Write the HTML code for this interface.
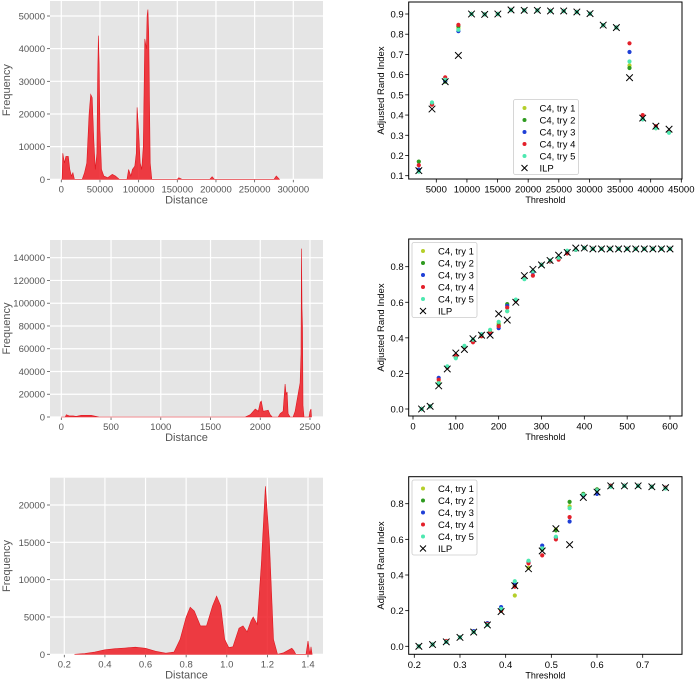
<!DOCTYPE html>
<html><head><meta charset="utf-8"><style>
html,body{margin:0;padding:0;background:#fff;}
svg{display:block;font-family:"Liberation Sans","DejaVu Sans",sans-serif;}
</style></head><body>
<svg id="fig" width="696" height="679" viewBox="0 0 696 679"></svg>
<script>
// ---------- Histogram data (distance, frequency) ----------
const hist1Dist = [0,1000,2000,4000,6000,9000,11000,13000,15000,17000,27000,30000,33000,36000,38000,40000,42000,44000,46000,47000,48000,49000,50000,52000,55000,60000,66000,70000,75000,85000,87000,90000,92000,95000,97000,98000,100000,102000,104000,106000,108000,110000,111000,112000,113000,115000,117000,150000,152000,156000,192000,195000,198000,275000,278000,282000];
const hist1Freq = [0,0,8000,5000,7000,7000,3000,1000,2000,0,0,2000,5000,20000,26000,25000,12000,3000,8000,30000,44000,35000,15000,3000,1000,500,1500,1000,0,0,3000,1000,3000,4000,8000,22000,15000,5000,3000,10000,43000,40000,50000,52000,45000,5000,0,0,500,0,0,800,0,0,1000,0];
const hist2Dist = [0,40,50,80,120,150,200,300,350,380,1850,1900,1950,1980,2000,2010,2030,2080,2100,2120,2180,2200,2230,2250,2260,2270,2280,2300,2330,2350,2380,2400,2410,2415,2420,2425,2430,2440,2490,2500,2510,2515];
const hist2Freq = [0,0,2000,1000,1000,500,1500,1500,500,0,0,2000,7000,5000,13000,14000,5000,6000,2000,0,0,3000,5000,29000,20000,22000,3000,0,0,5000,20000,30000,55000,148000,95000,80000,10000,0,0,5000,7000,0];
const hist3Dist = [0.25,0.3,0.35,0.4,0.45,0.5,0.55,0.6,0.65,0.7,0.74,0.77,0.8,0.82,0.84,0.87,0.9,0.93,0.95,0.97,0.99,1.01,1.03,1.06,1.08,1.1,1.12,1.13,1.15,1.17,1.19,1.21,1.23,1.25,1.28,1.32,1.33,1.34,1.39,1.4,1.41,1.415,1.42];
const hist3Freq = [0,100,300,600,750,850,950,800,400,150,300,2000,5000,6300,5800,3800,3800,6500,7800,6500,2000,900,1000,3500,3800,3000,4500,5000,4000,12000,22500,15000,2000,0,200,800,500,0,0,1800,0,1000,0];

// ---------- Scatter data ----------
const thr1 = [2150,4300,6450,8600,10750,12900,15050,17200,19350,21500,23650,25800,27950,30100,32250,34400,36550,38700,40850,43000];
const ilp1 = [0.125,0.43,0.565,0.695,0.90,0.898,0.90,0.92,0.918,0.918,0.915,0.915,0.91,0.902,0.845,0.833,0.585,0.385,0.345,0.33];
const t1a = [0.13,0.455,0.57,0.83,0.90,0.898,0.90,0.92,0.918,0.918,0.915,0.915,0.91,0.902,0.845,0.833,0.645,0.38,0.34,0.315];
const t1b = [0.17,0.455,0.565,0.84,0.90,0.898,0.90,0.92,0.918,0.918,0.915,0.915,0.91,0.902,0.845,0.833,0.633,0.38,0.335,0.315];
const t1c = [0.13,0.455,0.57,0.815,0.90,0.898,0.90,0.92,0.918,0.918,0.915,0.915,0.91,0.902,0.845,0.833,0.712,0.38,0.34,0.315];
const t1d = [0.152,0.452,0.587,0.846,0.90,0.898,0.90,0.92,0.918,0.918,0.915,0.915,0.91,0.902,0.845,0.833,0.755,0.40,0.345,0.315];
const t1e = [0.12,0.462,0.575,0.822,0.90,0.898,0.90,0.92,0.918,0.918,0.915,0.915,0.91,0.902,0.845,0.833,0.665,0.38,0.335,0.312];

const thr2 = [20,40,60,80,100,120,140,160,180,200,220,240,260,280,300,320,340,360,380,400,420,440,460,480,500,520,540,560,580,600];
const ilp2 = [0,0.015,0.13,0.225,0.315,0.335,0.395,0.415,0.415,0.535,0.50,0.60,0.75,0.785,0.81,0.835,0.865,0.88,0.905,0.905,0.90,0.90,0.90,0.90,0.90,0.90,0.90,0.90,0.90,0.90];
const t2a = [0,0.015,0.15,0.235,0.29,0.35,0.385,0.41,0.435,0.48,0.55,0.61,0.735,0.77,0.81,0.83,0.85,0.885,0.895,0.905,0.90,0.90,0.90,0.90,0.90,0.90,0.90,0.90,0.90,0.90];
const t2b = [0,0.015,0.14,0.235,0.29,0.35,0.385,0.41,0.43,0.47,0.59,0.61,0.735,0.77,0.81,0.83,0.85,0.885,0.895,0.905,0.90,0.90,0.90,0.90,0.90,0.90,0.90,0.90,0.90,0.90];
const t2c = [0,0.015,0.175,0.235,0.30,0.35,0.38,0.42,0.425,0.455,0.58,0.61,0.735,0.77,0.81,0.83,0.85,0.88,0.895,0.905,0.90,0.90,0.90,0.90,0.90,0.90,0.90,0.90,0.90,0.90];
const t2d = [0,0.015,0.165,0.235,0.30,0.35,0.375,0.41,0.43,0.465,0.57,0.61,0.735,0.75,0.81,0.83,0.84,0.875,0.895,0.905,0.90,0.90,0.90,0.90,0.90,0.90,0.90,0.90,0.90,0.90];
const t2e = [0,0.015,0.145,0.24,0.285,0.355,0.39,0.42,0.445,0.49,0.55,0.615,0.73,0.775,0.81,0.835,0.85,0.89,0.895,0.905,0.90,0.90,0.90,0.90,0.90,0.90,0.90,0.90,0.90,0.90];

const thr3 = [0.21,0.24,0.27,0.30,0.33,0.36,0.39,0.42,0.45,0.48,0.51,0.54,0.57,0.60,0.63,0.66,0.69,0.72,0.75];
const ilp3 = [0,0.01,0.025,0.05,0.08,0.12,0.195,0.34,0.435,0.535,0.66,0.57,0.835,0.865,0.90,0.90,0.90,0.895,0.89];
const t3a = [0,0.01,0.025,0.05,0.08,0.125,0.2,0.285,0.44,0.55,0.655,0.785,0.85,0.875,0.90,0.90,0.90,0.895,0.89];
const t3b = [0,0.01,0.025,0.05,0.08,0.125,0.2,0.34,0.475,0.545,0.65,0.81,0.855,0.88,0.90,0.90,0.90,0.895,0.89];
const t3c = [0,0.01,0.025,0.05,0.085,0.13,0.22,0.35,0.47,0.565,0.61,0.70,0.845,0.855,0.90,0.90,0.90,0.895,0.89];
const t3d = [0,0.01,0.03,0.05,0.08,0.125,0.2,0.335,0.465,0.51,0.60,0.725,0.85,0.875,0.90,0.90,0.90,0.895,0.89];
const t3e = [0,0.01,0.025,0.05,0.08,0.12,0.21,0.365,0.48,0.55,0.615,0.775,0.85,0.875,0.895,0.90,0.90,0.895,0.885];

const seriesNames = ["C4, try 1","C4, try 2","C4, try 3","C4, try 4","C4, try 5"];
const seriesColors = ["#b5cf2a","#2e9a1f","#1f3fd6","#e3202a","#4de8b0"];

const xt1 = [0,50000,100000,150000,200000,250000,300000];
const yt1 = [0,10000,20000,30000,40000,50000];
const xt2 = [0,500,1000,1500,2000,2500];
const yt2 = [0,20000,40000,60000,80000,100000,120000,140000];
const xt3 = [0.2,0.4,0.6,0.8,1.0,1.2,1.4];
const yt3 = [0,5000,10000,15000,20000];
const sxt1 = [5000,10000,15000,20000,25000,30000,35000,40000,45000];
const syt1 = [0.1,0.2,0.3,0.4,0.5,0.6,0.7,0.8,0.9];
const sxt2 = [0,100,200,300,400,500,600];
const syt2 = [0,0.2,0.4,0.6,0.8];
const sxt3 = [0.2,0.3,0.4,0.5,0.6,0.7];
const syt3 = [0,0.2,0.4,0.6,0.8];

const NS="http://www.w3.org/2000/svg";
const fig=document.getElementById('fig');
function mk(tag,attrs,parent,text){const e=document.createElementNS(NS,tag);for(const k in attrs)e.setAttribute(k,attrs[k]);if(text!==undefined)e.textContent=text;(parent||fig).appendChild(e);return e;}
function lin(d0,d1,p0,p1){return v=>p0+(v-d0)*(p1-p0)/(d1-d0);}
function fmt(v,dec){return dec===undefined?String(v):v.toFixed(dec);}

function hist(name,box,xs,ys,dist,freq,xticks,yticks,xdec){
  const g=mk('g',{});
  
  
  const bg=mk('rect',{x:box.x0,y:box.y0,width:box.x1-box.x0,height:box.y1-box.y0,fill:'#e5e5e5'},g);
  
  
  xticks.forEach(t=>{const x=xs(t);
    mk('line',{x1:x,x2:x,y1:box.y0,y2:box.y1,stroke:'#fff','stroke-width':1.2},g);
    mk('line',{x1:x,x2:x,y1:box.y1,y2:box.y1+3,stroke:'#555','stroke-width':0.8},g);
    const tl=mk('text',{x:x,y:box.y1+13,'font-size':9.5,fill:'#555','text-anchor':'middle'},g,fmt(t,xdec));
    
    });
  yticks.forEach(t=>{const y=ys(t);
    mk('line',{x1:box.x0,x2:box.x1,y1:y,y2:y,stroke:'#fff','stroke-width':1.2},g);
    mk('line',{x1:box.x0-3,x2:box.x0,y1:y,y2:y,stroke:'#555','stroke-width':0.8},g);
    const tl=mk('text',{x:box.x0-5,y:y+3.5,'font-size':9.5,fill:'#555','text-anchor':'end'},g,String(t));
    
    });
  let d='M'+xs(dist[0])+','+ys(0);
  for(let i=0;i<dist.length;i++)d+=' L'+xs(dist[i]).toFixed(1)+','+ys(freq[i]).toFixed(1);
  d+=' L'+xs(dist[dist.length-1])+','+ys(0)+' Z';
  const p=mk('path',{d:d,fill:'#ee1c25','fill-opacity':0.85,stroke:'#e0161f','stroke-width':0.6},g);
  
  
  const xl=mk('text',{x:(box.x0+box.x1)/2,y:box.y1+24,'font-size':11,fill:'#555','text-anchor':'middle'},g,'Distance');
  
  
  const cy=(box.y0+box.y1)/2;
  const yl=mk('text',{x:10,y:cy,'font-size':11,fill:'#555','text-anchor':'middle',transform:'rotate(-90 10 '+cy+')'},g,'Frequency');
  
  
}

function scat(name,box,xs,ys,thr,tries,ilp,xticks,yticks,xdec,ydec,leg){
  const g=mk('g',{});
  
  
  xticks.forEach(t=>{const x=xs(t);
    mk('line',{x1:x,x2:x,y1:box.y1,y2:box.y1+3.5,stroke:'#000','stroke-width':0.8},g);
    const tl=mk('text',{x:x,y:box.y1+13.5,'font-size':9.5,fill:'#000','text-anchor':'middle'},g,fmt(t,xdec));
    
    });
  yticks.forEach(t=>{const y=ys(t);
    mk('line',{x1:box.x0-3.5,x2:box.x0,y1:y,y2:y,stroke:'#000','stroke-width':0.8},g);
    const tl=mk('text',{x:box.x0-5,y:y+3.5,'font-size':9.5,fill:'#000','text-anchor':'end'},g,fmt(t,ydec));
    
    });
  tries.forEach((arr,s)=>{arr.forEach((v,i)=>{
    const c=mk('circle',{cx:xs(thr[i]).toFixed(1),cy:ys(v).toFixed(1),r:2.1,fill:seriesColors[s]},g);
    
    });});
  ilp.forEach((v,i)=>{const x=xs(thr[i]),y=ys(v),r=3.3;
    const m=mk('path',{d:`M${x-r},${y-r}L${x+r},${y+r}M${x-r},${y+r}L${x+r},${y-r}`,stroke:'#000','stroke-width':1},g);
    
    });
  const fr=mk('rect',{x:box.x0,y:box.y0,width:box.x1-box.x0,height:box.y1-box.y0,fill:'none',stroke:'#000','stroke-width':1},g);
  
  
  const lg=mk('g',{},g);
  
  
  mk('rect',{x:leg.x,y:leg.y,width:65,height:75,fill:'#fff','fill-opacity':0.85,stroke:'#ccc','stroke-width':0.8,rx:2},lg);
  const labels=seriesNames.concat(['ILP']);
  labels.forEach((l,i)=>{const yy=leg.y+8.5+i*12, xx=leg.x+11;
    if(i<5){mk('circle',{cx:xx,cy:yy,r:2,fill:seriesColors[i]},lg);}
    else{const r=3;mk('path',{d:`M${xx-r},${yy-r}L${xx+r},${yy+r}M${xx-r},${yy+r}L${xx+r},${yy-r}`,stroke:'#000','stroke-width':1},lg);}
    const t=mk('text',{x:leg.x+26,y:yy+3.5,'font-size':9.5,fill:'#000'},lg,l);
    
    });
  const xl=mk('text',{x:(box.x0+box.x1)/2,y:box.y1+24,'font-size':9,fill:'#000','text-anchor':'middle'},g,'Threshold');
  
  
  const cy=(box.y0+box.y1)/2;
  const yl=mk('text',{x:384,y:cy,'font-size':9.5,fill:'#000','text-anchor':'middle',transform:'rotate(-90 384 '+cy+')'},g,'Adjusted Rand Index');
  
  
}

// histograms
{const b={x0:50,x1:323,y0:1,y1:179.3};
 hist('distance-histogram-1',b,lin(0,300000,61.3,293.3),lin(0,50000,179.3,16),hist1Dist,hist1Freq,xt1,yt1);}
{const b={x0:50,x1:323,y0:240,y1:417};
 hist('distance-histogram-2',b,lin(0,2500,61.3,310),lin(0,140000,417,257.7),hist2Dist,hist2Freq,xt2,yt2);}
{const b={x0:50,x1:323,y0:477.7,y1:654.3};
 hist('distance-histogram-3',b,lin(0.2,1.4,64.3,308),lin(0,20000,654.3,505),hist3Dist,hist3Freq,xt3,yt3,1);}
// scatter
{const b={x0:408.7,x1:682,y0:2,y1:179};
 scat('ari-chart-1',b,lin(5000,45000,436.3,681.3),lin(0.1,0.9,175.7,14),thr1,[t1a,t1b,t1c,t1d,t1e],ilp1,sxt1,syt1,undefined,1,{x:513.5,y:99.5});}
{const b={x0:408.7,x1:682,y0:239,y1:416};
 scat('ari-chart-2',b,lin(0,600,413,670),lin(0,0.8,409,266.7),thr2,[t2a,t2b,t2c,t2d,t2e],ilp2,sxt2,syt2,undefined,1,{x:412,y:242.5});}
{const b={x0:408.7,x1:682,y0:476.7,y1:654.3};
 scat('ari-chart-3',b,lin(0.2,0.7,414.3,642.7),lin(0,0.8,646.3,503.7),thr3,[t3a,t3b,t3c,t3d,t3e],ilp3,sxt3,syt3,1,1,{x:412,y:480});}
</script>
</body></html>
